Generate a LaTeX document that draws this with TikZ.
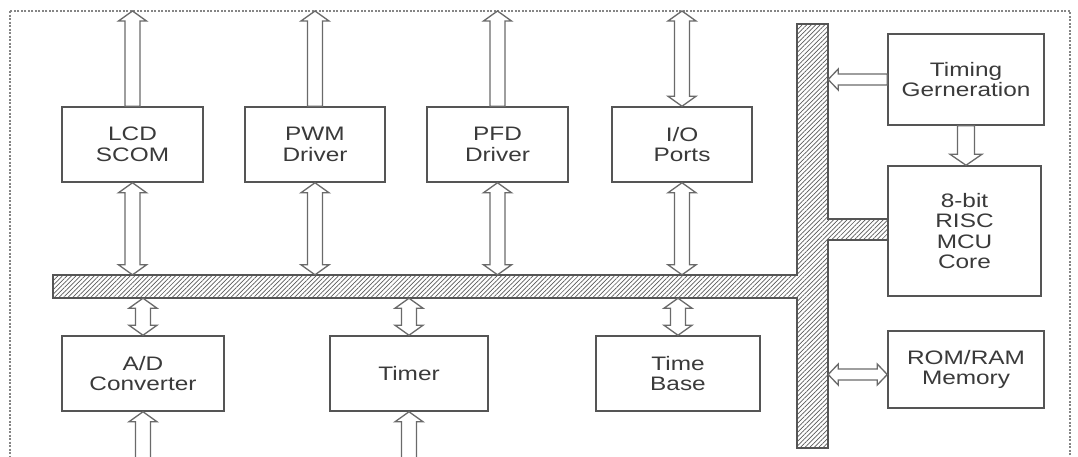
\documentclass[tikz,border=0pt]{standalone}
\usepackage{fontspec}
\setmainfont{Liberation Sans}[FakeStretch=1.25]
\usetikzlibrary{calc,patterns.meta}
\definecolor{boxline}{HTML}{555555}
\definecolor{txt}{HTML}{3A3A3A}
\definecolor{arrline}{HTML}{6A6A6A}
\definecolor{hatch}{HTML}{5A5A5A}
\definecolor{frame}{HTML}{858585}
\tikzset{
  blk/.style={draw=boxline, line width=1.5pt, fill=white, inner sep=0pt,
    align=center, text=txt, font=\fontsize{19.5}{20.5}\selectfont},
  vsize/.code={\def\aS{7.5pt}\def\aW{14pt}\def\aH{10pt}},
  bsize/.code={\def\aS{8.5pt}\def\aW{16pt}\def\aH{11pt}},
  hsize/.code={\def\aS{5.5pt}\def\aW{10.5pt}\def\aH{10pt}},
  arrbase/.style={draw=arrline, fill=white, line width=1.3pt, line join=miter},
  dblarrow/.style={arrbase, to path={
    -- ($ ($(\tikztostart)!\aH!(\tikztotarget)$) !\aW!90:(\tikztotarget) $)
    -- ($ ($(\tikztostart)!\aH!(\tikztotarget)$) !\aS!90:(\tikztotarget) $)
    -- ($ ($(\tikztotarget)!\aH!(\tikztostart)$) !\aS!-90:(\tikztostart) $)
    -- ($ ($(\tikztotarget)!\aH!(\tikztostart)$) !\aW!-90:(\tikztostart) $)
    -- (\tikztotarget)
    -- ($ ($(\tikztotarget)!\aH!(\tikztostart)$) !\aW!90:(\tikztostart) $)
    -- ($ ($(\tikztotarget)!\aH!(\tikztostart)$) !\aS!90:(\tikztostart) $)
    -- ($ ($(\tikztostart)!\aH!(\tikztotarget)$) !\aS!-90:(\tikztotarget) $)
    -- ($ ($(\tikztostart)!\aH!(\tikztotarget)$) !\aW!-90:(\tikztotarget) $)
    -- cycle}},
  sglarrow/.style={arrbase, to path={
    -- ($(\tikztostart)!\aS!90:(\tikztotarget)$)
    -- ($ ($(\tikztotarget)!\aH!(\tikztostart)$) !\aS!-90:(\tikztostart) $)
    -- ($ ($(\tikztotarget)!\aH!(\tikztostart)$) !\aW!-90:(\tikztostart) $)
    -- (\tikztotarget)
    -- ($ ($(\tikztotarget)!\aH!(\tikztostart)$) !\aW!90:(\tikztostart) $)
    -- ($ ($(\tikztotarget)!\aH!(\tikztostart)$) !\aS!90:(\tikztostart) $)
    -- ($(\tikztostart)!\aS!-90:(\tikztotarget)$)
    -- cycle}},
}
\begin{document}
\begin{tikzpicture}[x=1pt, y=-1pt]
\useasboundingbox (0,0) rectangle (1078,456);
\clip (0,0) rectangle (1078,456);
\fill[white] (0,0) rectangle (1078,456);
% dotted frame
\draw[frame, line width=1.8pt, dash pattern=on 2pt off 1.5pt] (10,11) rectangle (1070,480);
\coordinate (ftop) at (0,11);
\coordinate (fbot) at (0,470);
% bus (one hatched shape)
\node[inner sep=0pt, minimum width=744pt, minimum height=23pt] (hbus) at (425,286.5) {};
\node[inner sep=0pt, minimum width=31pt, minimum height=424pt] (vbus) at (812.5,236) {};
\draw[boxline, line width=1.4pt, pattern={Lines[angle=45, distance=3.2pt, line width=0.7pt]}, pattern color=hatch]
  (53,275) -- (797,275) -- (797,24) -- (828,24) -- (828,219) -- (888,219)
  -- (888,240) -- (828,240) -- (828,448) -- (797,448) -- (797,298) -- (53,298) -- cycle;
% blocks
\node[blk, minimum width=141pt, minimum height=75pt] (lcd) at (132.5,144.5) {LCD\\SCOM};
\node[blk, minimum width=140pt, minimum height=75pt] (pwm) at (315,144.5) {PWM\\Driver};
\node[blk, minimum width=141pt, minimum height=75pt] (pfd) at (497.5,144.5) {PFD\\Driver};
\node[blk, minimum width=140pt, minimum height=75pt] (io) at (682,144.5) {I/O\\Ports};
\node[blk, minimum width=156pt, minimum height=91pt] (timing) at (966,79.5) {Timing\\Gerneration};
\node[blk, minimum width=153pt, minimum height=130pt] (mcu) at (964.5,231) {8-bit\\RISC\\MCU\\Core};
\node[blk, minimum width=156pt, minimum height=77pt] (rom) at (966,369.5) {ROM/RAM\\Memory};
\node[blk, minimum width=162pt, minimum height=75pt] (ad) at (143,373.5) {A/D\\Converter};
\node[blk, minimum width=158pt, minimum height=75pt] (timer) at (409,373.5) {Timer};
\node[blk, minimum width=164pt, minimum height=75pt] (tbase) at (678,373.5) {Time\\Base};
% arrows to the top edge
\draw[vsize, sglarrow] (lcd.north) to (lcd.north |- ftop);
\draw[vsize, sglarrow] (pwm.north) to (pwm.north |- ftop);
\draw[vsize, sglarrow] (pfd.north) to (pfd.north |- ftop);
\draw[vsize, dblarrow] (io.north) to (io.north |- ftop);
% arrows between blocks and bus
\draw[vsize, dblarrow] (lcd.south) to (lcd.south |- hbus.north);
\draw[vsize, dblarrow] (pwm.south) to (pwm.south |- hbus.north);
\draw[vsize, dblarrow] (pfd.south) to (pfd.south |- hbus.north);
\draw[vsize, dblarrow] (io.south) to (io.south |- hbus.north);
\draw[vsize, dblarrow] (ad.north |- hbus.south) to (ad.north);
\draw[vsize, dblarrow] (timer.north |- hbus.south) to (timer.north);
\draw[vsize, dblarrow] (tbase.north |- hbus.south) to (tbase.north);
% inputs from the bottom edge
\draw[vsize, sglarrow] (ad.south |- fbot) to (ad.south);
\draw[vsize, sglarrow] (timer.south |- fbot) to (timer.south);
% right column
\draw[hsize, sglarrow] (timing.west) to (vbus.east |- timing.west);
\draw[bsize, sglarrow] (timing.south) to (timing.south |- mcu.north);
\draw[hsize, dblarrow] ([yshift=-5pt]rom.west) to ([yshift=-5pt]vbus.east |- rom.west);
\end{tikzpicture}
\end{document}
